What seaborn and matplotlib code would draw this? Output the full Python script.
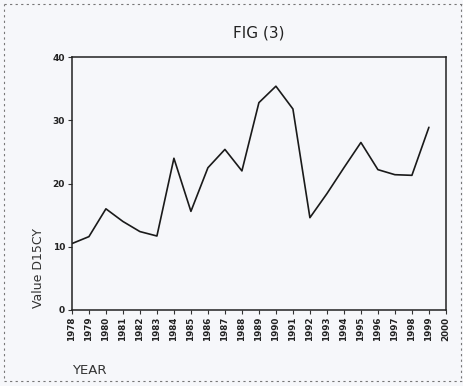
import matplotlib
matplotlib.use("Agg")
import matplotlib.pyplot as plt
import seaborn as sns
import pandas as pd
from matplotlib.lines import Line2D

years = list(range(1978, 2000))
values = [10.5, 11.6, 16.0, 14.0, 12.4, 11.7, 24.0, 15.6, 22.5, 25.4, 22.0,
          32.8, 35.4, 31.8, 14.6, 18.4, 22.5, 26.5, 22.2, 21.4, 21.3, 28.9]
tick_years = list(range(1978, 2001))
y_ticks = [0, 10, 20, 30, 40]

df = pd.DataFrame({"YEAR": years, "Value": values})

sns.set_style("white")
plt.rcParams['font.family'] = ['DejaVu Sans']

bg = "#f6f7fa"
fig = plt.figure(figsize=(4.64, 3.86), dpi=100, facecolor=bg)
ax = fig.add_axes([0.155, 0.197, 0.806, 0.655], facecolor=bg)

sns.lineplot(data=df, x="YEAR", y="Value", ax=ax, color="#1a1a1a", linewidth=1.2)

ax.set_xlim(1978, 2000)
ax.set_ylim(0, 40)
ax.set_xticks(tick_years)
ax.set_xticklabels([str(t) for t in tick_years], rotation=90, fontsize=6.3,
                   fontweight="bold", color="#222222")
ax.set_yticks(y_ticks)
ax.set_yticklabels([str(t) for t in y_ticks], fontsize=6.5, fontweight="bold",
                   color="#222222")
ax.tick_params(axis="both", length=3, width=0.8, direction="out", pad=2,
               bottom=True, left=True, color="#333333")
for s in ax.spines.values():
    s.set_visible(True)
    s.set_color("#222222")
    s.set_linewidth(1.1)

ax.set_xlabel("")
ax.set_ylabel("")
fig.text(0.557, 0.915, "FIG (3)", ha="center", va="center", fontsize=11,
         color="#222222")
fig.text(0.082, 1 - 268 / 386, "Value D15CY", rotation=90, ha="center",
         va="center", fontsize=9, color="#333333")
fig.text(0.155, 1 - 370 / 386, "YEAR", ha="left", va="center", fontsize=9.5,
         color="#333333")

# dashed scan border
for xs, ys in [([0.008, 0.008], [0.02, 0.99]), ([0.008, 0.995], [0.99, 0.99]),
               ([0.008, 0.995], [0.012, 0.012]), ([0.993, 0.993], [0.02, 0.99])]:
    fig.add_artist(Line2D(xs, ys, transform=fig.transFigure, color="#777777",
                          linewidth=0.8, linestyle=(0, (2, 3))))

fig.savefig("out.png", dpi=100, facecolor=bg)
